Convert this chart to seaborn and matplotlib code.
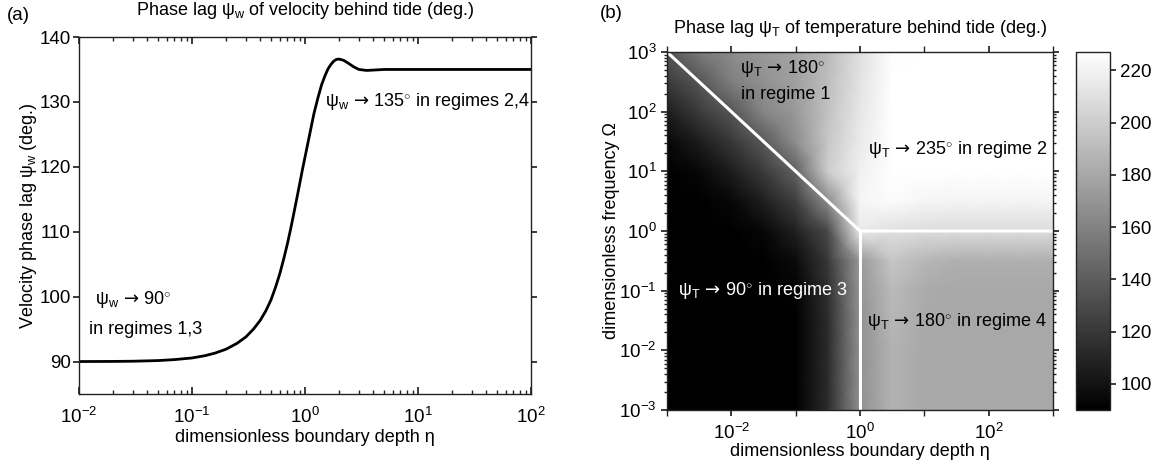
import numpy as np
import pandas as pd
import matplotlib
matplotlib.use("Agg")
import matplotlib.pyplot as plt
import seaborn as sns
from matplotlib.ticker import FixedLocator, NullFormatter, LogFormatterSciNotation

# ---------------------------------------------------------------------------
# Panel (a): velocity phase lag psi_w against dimensionless boundary depth eta
# ---------------------------------------------------------------------------
eta_a = [0.01, 0.02, 0.03, 0.05, 0.07, 0.1, 0.13, 0.16, 0.2, 0.25, 0.3, 0.35,
         0.4, 0.45, 0.5, 0.55, 0.6, 0.65, 0.7, 0.75, 0.8, 0.85, 0.9, 0.95,
         1.0, 1.1, 1.2, 1.3, 1.4, 1.5, 1.6, 1.7, 1.8, 1.9, 2.0, 2.2, 2.4, 2.7,
         3.0, 3.5, 4.0, 5.0, 7.0, 10.0, 30.0, 100.0]
psi_w = [90.0, 90.02, 90.05, 90.15, 90.3, 90.55, 90.9, 91.3, 91.9, 92.8, 93.8,
         95.0, 96.3, 97.8, 99.5, 101.5, 103.6, 105.9, 108.2, 110.6, 113.0,
         115.3, 117.5, 119.6, 121.5, 125.0, 128.2, 130.6, 132.6, 134.0, 135.1,
         135.8, 136.3, 136.55, 136.6, 136.4, 136.0, 135.4, 135.0, 134.85,
         134.9, 135.0, 135.0, 135.0, 135.0, 135.0]

# ---------------------------------------------------------------------------
# Panel (b): temperature phase lag psi_T on a half-decade grid of (eta, Omega)
# rows run from Omega = 1e3 (top) down to Omega = 1e-3, columns eta 1e-3 .. 1e3
# ---------------------------------------------------------------------------
log_eta_nodes = [-3, -2.5, -2, -1.5, -1, -0.5, 0, 0.5, 1, 1.5, 2, 2.5, 3]
log_omega_nodes = [3, 2.5, 2, 1.5, 1, 0.5, 0, -0.5, -1, -1.5, -2, -2.5, -3]
psi_T = [
    [135, 155, 165, 172, 178, 190, 210, 226, 230, 232, 232, 232, 232],
    [122, 136, 158, 168, 176, 192, 212, 228, 232, 232, 232, 232, 232],
    [106, 122, 136, 162, 172, 194, 214, 228, 232, 232, 232, 232, 232],
    [94, 106, 120, 138, 166, 197, 216, 228, 231, 231, 231, 231, 231],
    [90, 94, 106, 122, 142, 200, 219, 227, 229, 229, 229, 229, 229],
    [90, 90, 94, 107, 124, 165, 222, 225, 222, 221, 221, 221, 221],
    [90, 90, 90, 94, 108, 130, 215, 210, 208, 208, 208, 208, 208],
    [90, 90, 90, 90, 96, 120, 172, 196, 188, 184, 184, 184, 184],
    [90, 90, 90, 90, 92, 116, 170, 190, 182, 180, 180, 180, 180],
    [90, 90, 90, 90, 90, 114, 168, 188, 181, 180, 180, 180, 180],
    [90, 90, 90, 90, 90, 114, 168, 186, 180, 180, 180, 180, 180],
    [90, 90, 90, 90, 90, 114, 168, 186, 180, 180, 180, 180, 180],
    [90, 90, 90, 90, 90, 114, 168, 186, 180, 180, 180, 180, 180],
]

# regime boundaries: eta*Omega = 1 for eta < 1, Omega = 1 and eta = 1 beyond
boundary_eta = [1e-3, 1.0, 1e3]
boundary_omega = [1e3, 1.0, 1.0]
split_eta = [1.0, 1.0]
split_omega = [1.0, 1e-3]

cbar_ticks = [100, 120, 140, 160, 180, 200, 220]
psi_T_range = (90, 227)

# ---------------------------------------------------------------------------
sns.set_theme(style="ticks")
plt.rcParams["font.family"] = ["Liberation Sans", "DejaVu Sans"]
plt.rcParams["mathtext.fontset"] = "custom"
plt.rcParams["mathtext.sf"] = "Liberation Sans"
plt.rcParams["mathtext.rm"] = "DejaVu Sans"
plt.rcParams["mathtext.it"] = "Liberation Sans:italic"
plt.rcParams["mathtext.bf"] = "Liberation Sans:bold"
plt.rcParams["mathtext.default"] = "sf"
plt.rcParams["text.color"] = "black"
plt.rcParams["axes.labelcolor"] = "black"
plt.rcParams["axes.edgecolor"] = "#222222"
plt.rcParams["axes.linewidth"] = 1.0
plt.rcParams["xtick.color"] = "#222222"
plt.rcParams["ytick.color"] = "#222222"
plt.rcParams["xtick.labelcolor"] = "black"
plt.rcParams["ytick.labelcolor"] = "black"

NOTE_SIZE = 13
ARROW = r"$\,\mathrm{\rightarrow}\,$"

W, H = 1154, 468
fig = plt.figure(figsize=(W / 100, H / 100), dpi=100)
fig.patch.set_facecolor("white")


def px_rect(x0, y0, x1, y1):
    return [x0 / W, 1 - y1 / H, (x1 - x0) / W, (y1 - y0) / H]


ax_a = fig.add_axes(px_rect(79, 37, 531, 394))
ax_b = fig.add_axes(px_rect(667, 52, 1053, 410))
cax = fig.add_axes(px_rect(1076, 52, 1110, 410))

# ----------------------------- panel (a) -----------------------------------
df_a = pd.DataFrame({"eta": eta_a, "psi_w": psi_w})
sns.lineplot(data=df_a, x="eta", y="psi_w", ax=ax_a, color="black", lw=2.0)
ax_a.set_xscale("log")
ax_a.set_xlim(1e-2, 1e2)
ax_a.set_ylim(85, 140)
ax_a.set_yticks([90, 100, 110, 120, 130, 140])
ax_a.xaxis.set_major_locator(FixedLocator([1e-2, 1e-1, 1e0, 1e1, 1e2]))
ax_a.xaxis.set_minor_locator(FixedLocator(
    [m * 10.0 ** e for e in (-2, -1, 0, 1) for m in range(2, 10)]))
ax_a.xaxis.set_minor_formatter(NullFormatter())
ax_a.xaxis.set_major_formatter(LogFormatterSciNotation())
ax_a.tick_params(axis="x", which="both", direction="in", top=True, bottom=True,
                 labelsize=13.5, pad=9)
ax_a.tick_params(axis="x", which="major", length=5)
ax_a.tick_params(axis="x", which="minor", length=3)
ax_a.tick_params(axis="y", which="major", direction="out", left=True, right=True,
                 length=4, pad=2, labelsize=13.5)
for s in ax_a.spines.values():
    s.set_visible(True)
ax_a.set_xlabel("dimensionless boundary depth η", fontsize=13, labelpad=2)
ax_a.set_ylabel(r"Velocity phase lag ψ$_{\mathsf{w}}$ (deg.)", fontsize=13,
                labelpad=0)
ax_a.set_title(r"Phase lag ψ$_{\mathsf{w}}$ of velocity behind tide (deg.)",
               fontsize=13, pad=16)
ax_a.text(1.5, 130, r"ψ$_{\mathsf{w}}$" + ARROW + r"135$^{\circ}$ in regimes 2,4",
          fontsize=NOTE_SIZE, va="center", ha="left")
ax_a.text(0.0139, 99.6, r"ψ$_{\mathsf{w}}$" + ARROW + r"90$^{\circ}$",
          fontsize=NOTE_SIZE, va="center", ha="left")
ax_a.text(0.0123, 95.0, "in regimes 1,3", fontsize=NOTE_SIZE, va="center",
          ha="left")

# ----------------------------- panel (b) -----------------------------------
eta_grid = 10.0 ** np.array(log_eta_nodes)
omega_grid = 10.0 ** np.array(log_omega_nodes)
mesh = ax_b.pcolormesh(eta_grid, omega_grid, np.array(psi_T, dtype=float),
                       shading="gouraud", cmap="gray",
                       vmin=psi_T_range[0], vmax=psi_T_range[1],
                       rasterized=True)
ax_b.plot(boundary_eta, boundary_omega, color="white", lw=2.2)
ax_b.plot(split_eta, split_omega, color="white", lw=2.2)
ax_b.set_xscale("log")
ax_b.set_yscale("log")
ax_b.set_xlim(1e-3, 1e3)
ax_b.set_ylim(1e-3, 1e3)
ax_b.xaxis.set_major_locator(FixedLocator([1e-2, 1e0, 1e2]))
ax_b.xaxis.set_minor_locator(FixedLocator([1e-3, 1e-1, 1e1, 1e3]))
ax_b.xaxis.set_major_formatter(LogFormatterSciNotation())
ax_b.xaxis.set_minor_formatter(NullFormatter())
ax_b.yaxis.set_major_locator(FixedLocator([10.0 ** e for e in range(-3, 4)]))
ax_b.yaxis.set_minor_locator(FixedLocator(
    [m * 10.0 ** e for e in range(-3, 3) for m in range(2, 10)]))
ax_b.yaxis.set_major_formatter(LogFormatterSciNotation())
ax_b.yaxis.set_minor_formatter(NullFormatter())
ax_b.tick_params(axis="x", which="both", direction="out", top=True, bottom=True,
                 length=4, labelsize=13.5, pad=5)
ax_b.tick_params(axis="y", which="major", direction="out", left=True, right=True,
                 length=4, labelsize=13.5)
ax_b.tick_params(axis="y", which="minor", direction="out", left=True, right=True,
                 length=2)
for s in ax_b.spines.values():
    s.set_visible(True)
ax_b.set_xlabel("dimensionless boundary depth η", fontsize=13, labelpad=0)
ax_b.set_ylabel("dimensionless frequency Ω", fontsize=13, labelpad=-1)
ax_b.set_title(r"Phase lag ψ$_{\mathsf{T}}$ of temperature behind tide (deg.)",
               fontsize=13, pad=14)

ax_b.text(10 ** -1.87, 10 ** 2.72, r"ψ$_{\mathsf{T}}$" + ARROW + r"180$^{\circ}$",
          fontsize=NOTE_SIZE, va="center", ha="left", color="black")
ax_b.text(10 ** -1.85, 10 ** 2.28, "in regime 1", fontsize=NOTE_SIZE,
          va="center", ha="left", color="black")
ax_b.text(10 ** 0.12, 10 ** 1.36,
          r"ψ$_{\mathsf{T}}$" + ARROW + r"235$^{\circ}$ in regime 2",
          fontsize=NOTE_SIZE, va="center", ha="left", color="black")
ax_b.text(10 ** -2.83, 10 ** -0.99,
          r"ψ$_{\mathsf{T}}$" + ARROW + r"90$^{\circ}$ in regime 3",
          fontsize=NOTE_SIZE, va="center", ha="left", color="white")
ax_b.text(10 ** 0.11, 10 ** -1.52,
          r"ψ$_{\mathsf{T}}$" + ARROW + r"180$^{\circ}$ in regime 4",
          fontsize=NOTE_SIZE, va="center", ha="left", color="black")

cb = fig.colorbar(mesh, cax=cax, ticks=cbar_ticks)
cb.ax.tick_params(labelsize=13.5, length=4, direction="out")
cb.outline.set_edgecolor("#222222")
cb.outline.set_linewidth(1.0)

fig.text(7 / W, 1 - 15 / H, "(a)", fontsize=13.5, va="center", ha="left")
fig.text(600 / W, 1 - 13 / H, "(b)", fontsize=13.5, va="center", ha="left")

fig.savefig("out.png", dpi=100, facecolor="white")
